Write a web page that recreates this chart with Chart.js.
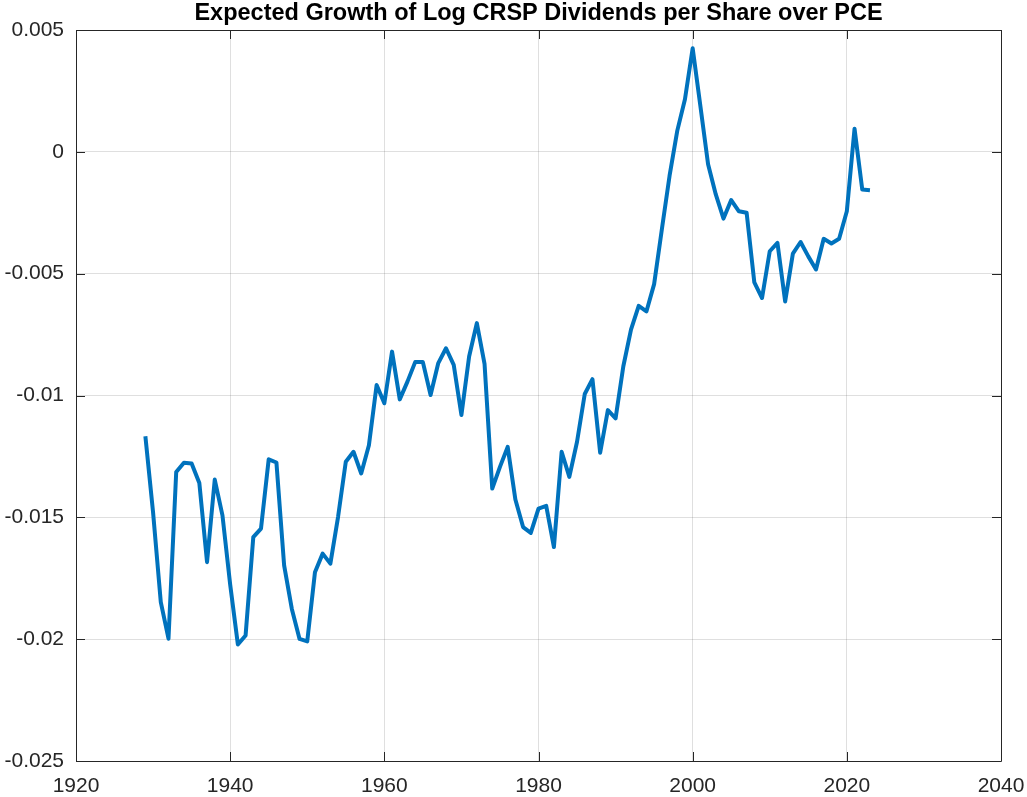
<!DOCTYPE html>
<html>
<head>
<meta charset="utf-8">
<script src="https://cdn.jsdelivr.net/npm/chart.js@4/dist/chart.umd.min.js"></script>
<style>
  body { margin: 0; background: #fff; }
  #wrap { width: 1027px; height: 797px; }
</style>
</head>
<body>
<div id="wrap"><canvas id="growth-chart" width="1027" height="797"></canvas></div>
<script>
// Years of the series (annual)
const years = [
  1929, 1930, 1931, 1932, 1933, 1934, 1935, 1936, 1937, 1938,
  1939, 1940, 1941, 1942, 1943, 1944, 1945, 1946, 1947, 1948,
  1949, 1950, 1951, 1952, 1953, 1954, 1955, 1956, 1957, 1958,
  1959, 1960, 1961, 1962, 1963, 1964, 1965, 1966, 1967, 1968,
  1969, 1970, 1971, 1972, 1973, 1974, 1975, 1976, 1977, 1978,
  1979, 1980, 1981, 1982, 1983, 1984, 1985, 1986, 1987, 1988,
  1989, 1990, 1991, 1992, 1993, 1994, 1995, 1996, 1997, 1998,
  1999, 2000, 2001, 2002, 2003, 2004, 2005, 2006, 2007, 2008,
  2009, 2010, 2011, 2012, 2013, 2014, 2015, 2016, 2017, 2018,
  2019, 2020, 2021, 2022, 2023
];

// Expected growth values
const expectedGrowth = [
  -0.01167, -0.01480, -0.01848, -0.01998, -0.01314, -0.01276, -0.01279, -0.01359, -0.01684, -0.01345,
  -0.01492, -0.01776, -0.02022, -0.01985, -0.01581, -0.01546, -0.01262, -0.01275, -0.01697, -0.01876,
  -0.01999, -0.02009, -0.01725, -0.01649, -0.01690, -0.01498, -0.01272, -0.01231, -0.01320, -0.01204,
  -0.00957, -0.01032, -0.00820, -0.01016, -0.00943, -0.00863, -0.00863, -0.00998, -0.00867, -0.00806,
  -0.00874, -0.01080, -0.00840, -0.00703, -0.00870, -0.01382, -0.01293, -0.01211, -0.01427, -0.01540,
  -0.01564, -0.01464, -0.01453, -0.01622, -0.01231, -0.01334, -0.01190, -0.00994, -0.00933, -0.01235,
  -0.01060, -0.01094, -0.00881, -0.00730, -0.00632, -0.00655, -0.00543, -0.00319, -0.00099, 0.00086,
  0.00216, 0.00425, 0.00188, -0.00051, -0.00175, -0.00274, -0.00198, -0.00244, -0.00250, -0.00536,
  -0.00600, -0.00408, -0.00374, -0.00614, -0.00418, -0.00370, -0.00429, -0.00483, -0.00357, -0.00376,
  -0.00357, -0.00244, 0.00095, -0.00155, -0.00158
];

// Axis ticks
const xTicks = [1920, 1940, 1960, 1980, 2000, 2020, 2040];
const yTicks = [-0.025, -0.02, -0.015, -0.01, -0.005, 0, 0.005];
const yTickLabels = ['-0.025', '-0.02', '-0.015', '-0.01', '-0.005', '0', '0.005'];

const chartTitle = 'Expected Growth of Log CRSP Dividends per Share over PCE';

const axisColor = '#262626';
const labelFont = { family: '"Liberation Sans", Arial, sans-serif', size: 21 };

// MATLAB-like box with inward ticks, plus the title centred on the plot area
const boxPlugin = {
  id: 'matlabBox',
  afterDraw(chart) {
    const c = chart.ctx;
    const a = chart.chartArea;
    const xs = chart.scales.x;
    const ys = chart.scales.y;
    const tl = 9;
    c.save();
    c.strokeStyle = axisColor;
    c.lineWidth = 1;
    c.beginPath();
    c.rect(Math.round(a.left) + 0.5, Math.round(a.top) + 0.5,
           Math.round(a.right - a.left), Math.round(a.bottom - a.top));
    xTicks.forEach(function (t) {
      const px = Math.round(xs.getPixelForValue(t)) + 0.5;
      c.moveTo(px, a.bottom); c.lineTo(px, a.bottom - tl);
      c.moveTo(px, a.top); c.lineTo(px, a.top + tl);
    });
    yTicks.forEach(function (t) {
      const py = Math.round(ys.getPixelForValue(t)) + 0.5;
      c.moveTo(a.left, py); c.lineTo(a.left + tl, py);
      c.moveTo(a.right, py); c.lineTo(a.right - tl, py);
    });
    c.stroke();

    c.fillStyle = '#000';
    c.font = 'bold 23.5px "Liberation Sans", Arial, sans-serif';
    c.textAlign = 'center';
    c.textBaseline = 'alphabetic';
    c.fillText(chartTitle, (a.left + a.right) / 2, 20);
    c.restore();
  }
};

const ctx = document.getElementById('growth-chart').getContext('2d');

new Chart(ctx, {
  type: 'line',
  data: {
    datasets: [{
      data: years.map(function (y, i) { return { x: y, y: expectedGrowth[i] }; }),
      borderColor: '#0072BD',
      borderWidth: 4,
      borderJoinStyle: 'round',
      borderCapStyle: 'butt',
      pointRadius: 0,
      tension: 0,
      fill: false
    }]
  },
  options: {
    responsive: false,
    animation: false,
    layout: { padding: { top: 30, right: 26, left: 0, bottom: 0 } },
    plugins: {
      legend: { display: false },
      title: { display: false },
      tooltip: { enabled: false }
    },
    scales: {
      x: {
        type: 'linear',
        min: 1920,
        max: 2040,
        afterFit: function (scale) {
          scale.height = 36;
          scale.paddingLeft = 0;
          scale.paddingRight = 0;
        },
        afterBuildTicks: function (scale) {
          scale.ticks = xTicks.map(function (v) { return { value: v }; });
        },
        border: { display: false },
        grid: { color: 'rgba(38,38,38,0.15)', drawTicks: false },
        ticks: {
          color: axisColor,
          font: labelFont,
          padding: 13,
          maxRotation: 0,
          callback: function (value) { return String(value); }
        }
      },
      y: {
        type: 'linear',
        min: -0.025,
        max: 0.005,
        afterFit: function (scale) {
          scale.width = 76;
          scale.paddingTop = 0;
          scale.paddingBottom = 0;
        },
        afterBuildTicks: function (scale) {
          scale.ticks = yTicks.map(function (v) { return { value: v }; });
        },
        border: { display: false },
        grid: { color: 'rgba(38,38,38,0.15)', drawTicks: false },
        ticks: {
          color: axisColor,
          font: labelFont,
          padding: 12,
          callback: function (value) {
            const i = yTicks.findIndex(function (t) { return Math.abs(t - value) < 1e-9; });
            return i >= 0 ? yTickLabels[i] : '';
          }
        }
      }
    }
  },
  plugins: [boxPlugin]
});
</script>
</body>
</html>
